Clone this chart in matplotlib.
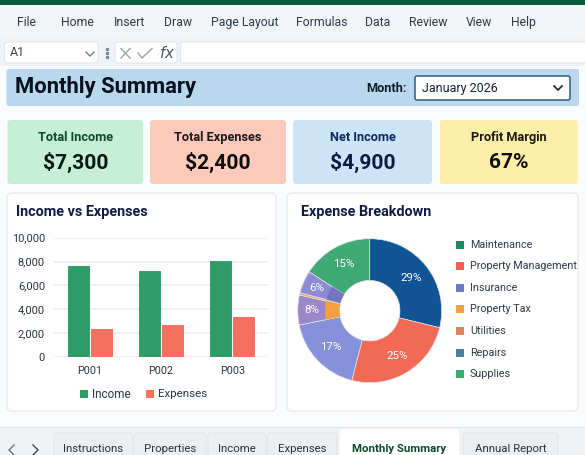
import numpy as np
import matplotlib
matplotlib.use('Agg')
import matplotlib.pyplot as plt
from matplotlib.patches import FancyBboxPatch, Rectangle

plt.rcParams['font.family'] = ['Roboto', 'DejaVu Sans']

# data
menu_items = ['File', 'Home', 'Insert', 'Draw', 'Page Layout', 'Formulas', 'Data', 'Review', 'View', 'Help']
menu_x = [17, 61, 114, 164, 211, 296, 365, 409, 466, 511]

card_titles = ['Total Income', 'Total Expenses', 'Net Income', 'Profit Margin']
card_values = ['$7,300', '$2,400', '$4,900', '67%']

properties = ['P001', 'P002', 'P003']
income = [7590, 7230, 8070]
expenses = [2300, 2690, 3360]
y_ticks = [0, 2000, 4000, 6000, 8000, 10000]

# the thin orange sliver between 8% and 6% gets its own entry, no label
pie_values = [28.8, 25.2, 17.8, 6.7, 0.5, 5.1, 15.9]
pie_labels = ['29%', '25%', '17%', '8%', '', '6%', '15%']
pie_colors = ['#0f5595', '#f26a55', '#8591d9', '#9b88c9', '#f3a64e', '#8e8bd2', '#41a974']
inner_colors = ['none', 'none', 'none', '#f5a03c', 'none', '#7276c0', 'none']

legend_names = ['Maintenance', 'Property Management', 'Insurance', 'Property Tax', 'Utilities', 'Repairs', 'Supplies']
legend_colors = ['#1f8a5f', '#f1614f', '#6f7cc4', '#f3a24a', '#d98560', '#48809f', '#38a96f']

tab_names = ['Instructions', 'Properties', 'Income', 'Expenses', 'Monthly Summary', 'Annual Report']

W, H = 585, 455
fig = plt.figure(figsize=(W / 100, H / 100), dpi=100, facecolor='#fbfcfd')

# full figure axes in pixel coordinates for the spreadsheet chrome
bg = fig.add_axes([0, 0, 1, 1], zorder=0)
bg.set_xlim(0, W)
bg.set_ylim(H, 0)
bg.axis('off')


def px(size):
    return size * 0.72


def box(x0, y0, x1, y1, fc, ec='none', lw=0.8, r=3):
    bg.add_patch(FancyBboxPatch((x0 + r, y0 + r), x1 - x0 - 2 * r, y1 - y0 - 2 * r,
                                boxstyle='round,pad=%g,rounding_size=%g' % (r, r),
                                fc=fc, ec=ec, lw=lw))


def label(x, y, s, size, color='#2b3440', weight='normal', ha='left'):
    bg.text(x, y, s, fontsize=px(size), color=color, fontweight=weight, ha=ha, va='center')


# top bar, ribbon, formula bar
bg.add_patch(Rectangle((0, 0), W, 5, fc='#0a5c3c', ec='none'))
bg.add_patch(Rectangle((0, 5), W, 33, fc='#f3f6f8', ec='none'))
bg.add_patch(Rectangle((0, 38), W, 28, fc='#f0f3f5', ec='none'))
for name, x in zip(menu_items, menu_x):
    label(x, 22.5, name, 12.2, '#2b3a48')

box(4.5, 42, 98, 63, 'white', '#e3e6e9')
label(10, 53, 'A1', 12.5, '#3a4550')
bg.plot([86, 90, 94], [52, 56, 52], color='#77808a', lw=1)
bg.plot([107, 107, 107], [49, 53, 57], ls='none', marker='o', ms=1.4, color='#77808a')
box(115, 42, 177, 63, 'white', '#e3e6e9')
bg.plot([121, 130], [48.5, 58], color='#9aa2aa', lw=1)
bg.plot([121, 130], [58, 48.5], color='#9aa2aa', lw=1)
bg.plot([138, 142, 152], [53, 58, 48.5], color='#9aa2aa', lw=1)
bg.text(167, 53, r'$\mathit{fx}$', fontsize=px(15), color='#4a5560', ha='center', va='center')
box(180.5, 42, 600, 63, 'white', '#e3e6e9')

# title banner
box(6.5, 69, 579, 106, '#b9d8ee', r=2)
label(15, 87.5, 'Monthly Summary', 22, '#06101e', 'bold')
label(366, 88.5, 'Month:', 12.8, '#101a28', 'bold')
box(415, 76, 570, 100, 'white', '#2e5a82', lw=1.1, r=2)
label(421.5, 88.5, 'January 2026', 12.5, '#17202c')
bg.plot([554, 558, 562], [86, 90, 86], color='#17202c', lw=1.2)

# summary cards
card_x = [(7.5, 143), (150, 286), (293, 432), (440, 578)]
card_fill = ['#c6efd6', '#fdc9bb', '#cbe4f8', '#fdeeaa']
card_title_col = ['#0b4a2c', '#1b1a1a', '#0f2a5c', '#1b1a12']
card_value_col = ['#06180f', '#0e0c0c', '#0a1a44', '#100e08']
for (x0, x1), fill, tc, vc, t, v in zip(card_x, card_fill, card_title_col, card_value_col,
                                        card_titles, card_values):
    box(x0, 120, x1, 184, fill, r=3)
    label((x0 + x1) / 2, 137.5, t, 12.8, tc, 'bold', ha='center')
    label((x0 + x1) / 2, 162, v, 21, vc, 'bold', ha='center')

# chart panels
box(7, 193, 276, 411, 'white', '#e8eaed', lw=1, r=5)
box(287, 193, 578, 411, 'white', '#e8eaed', lw=1, r=5)
label(16, 212, 'Income vs Expenses', 14.4, '#101c44', 'bold')
label(301, 212, 'Expense Breakdown', 14.4, '#101c44', 'bold')

# bar chart
ax = fig.add_axes([54 / W, 1 - 356.7 / H, 214 / W, 119 / H], zorder=2)
ax.patch.set_alpha(0)
pos = np.arange(len(properties))
bw = 0.295
ax.bar(pos - bw / 2 - 0.012, income, bw, color='#2f9c68', edgecolor='#2a9461', lw=0.6, zorder=3)
ax.bar(pos + bw / 2 + 0.012, expenses, bw, color='#f4705f', edgecolor='#ee6655', lw=0.6, zorder=3)
ax.set_xlim(-0.5, 2.5)
ax.set_ylim(0, 10000)
ax.set_yticks(y_ticks)
ax.set_yticklabels(['{:,}'.format(t) for t in y_ticks], fontsize=px(11), color='#2b3440')
ax.set_xticks(pos)
ax.set_xticklabels(properties, fontsize=px(10.8), color='#2b3440')
ax.tick_params(length=0, axis='y', pad=6.5)
ax.tick_params(length=0, axis='x', pad=6.5)
ax.grid(axis='y', color='#eceef0', lw=1.2, zorder=0)
ax.set_axisbelow(True)
for s in ax.spines.values():
    s.set_visible(False)

bg.add_patch(Rectangle((79.5, 390), 8, 8, fc='#2f9c68', ec='none'))
label(92, 394, 'Income', 11.8, '#2b3440')
bg.add_patch(Rectangle((146, 390), 8, 8, fc='#f4705f', ec='none'))
label(158, 394, 'Expenses', 11.5, '#2b3440')

# donut
cx, cy, R = 369.7, 310.7, 72
pie_ax = fig.add_axes([(cx - R) / W, 1 - (cy + R) / H, 2 * R / W, 2 * R / H], zorder=2)
wedges, _ = pie_ax.pie(pie_values, colors=pie_colors, startangle=90, counterclock=False,
                       radius=1, wedgeprops={'width': 0.58, 'edgecolor': '#e6e4ee', 'linewidth': 0.5})
# darker inner part of the two small slices
pie_ax.pie(pie_values, colors=inner_colors, startangle=90, counterclock=False,
           radius=0.62, wedgeprops={'width': 0.2, 'linewidth': 0})
pie_ax.set_xlim(-1, 1)
pie_ax.set_ylim(-1, 1)
for w, t in zip(wedges, pie_labels):
    a = np.deg2rad((w.theta1 + w.theta2) / 2)
    rad = 0.8 if t in ('8%', '6%') else 0.74
    pie_ax.text(rad * np.cos(a), rad * np.sin(a), t, color='white', fontsize=px(11.5),
                ha='center', va='center')

for i, (name, col) in enumerate(zip(legend_names, legend_colors)):
    y = 244.5 + i * 21.65
    bg.add_patch(Rectangle((456, y - 4), 8, 8, fc=col, ec='none'))
    label(470, y, name, 10.7, '#2f3a46')

# sheet tabs
bg.add_patch(Rectangle((0, 427), W, 28, fc='#f0f2f4', ec='none'))
bg.plot([0, W], [427, 427], color='#e2e5e8', lw=0.8)
bg.plot([14, 9, 14], [445, 450, 455], color='#6d757d', lw=1)
bg.plot([33, 38, 33], [445, 450, 455], color='#3f474f', lw=1)
tab_x = [(54, 132.5), (134, 206), (208, 266), (267.5, 337), (339.5, 459), (463, 558)]
for name, (x0, x1) in zip(tab_names, tab_x):
    active = name == 'Monthly Summary'
    top = 429 if active else 433
    box(x0, top, x1, 470, 'white' if active else '#eceef0', 'none' if active else '#e3e5e8', r=3)
    label((x0 + x1) / 2, 449, name, 11.4, '#0b4a2c' if active else '#2b3440',
          'bold' if active else 'normal', ha='center')

fig.savefig('out.png', dpi=100, facecolor=fig.get_facecolor())
